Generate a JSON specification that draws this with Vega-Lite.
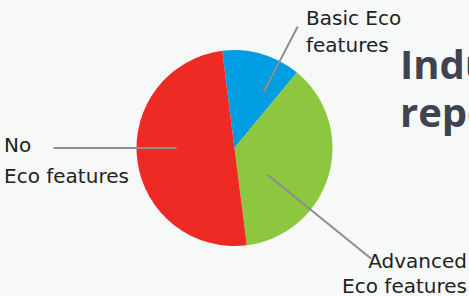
{
  "$schema": "https://vega.github.io/schema/vega-lite/v6.json",
  "width": 469,
  "height": 296,
  "autosize": "none",
  "padding": 0,
  "background": "#f7f9f9",
  "config": {"view": {"stroke": null}},
  "title": {
    "text": ["Industry", "report"],
    "anchor": "start",
    "frame": "group",
    "orient": "top",
    "dx": 400,
    "dy": 167,
    "offset": 0,
    "baseline": "alphabetic",
    "font": "Open Sans",
    "fontSize": 40,
    "fontWeight": "bold",
    "color": "#3d4350",
    "lineHeight": 48
  },
  "data": {
    "values": [
      {"category": "Basic Eco features", "label": "Basic Eco\nfeatures", "share": 13},
      {"category": "Advanced Eco features", "label": "Advanced\nEco features", "share": 37},
      {"category": "No Eco features", "label": "No\nEco features", "share": 50}
    ]
  },
  "transform": [
    {"stack": "share", "groupby": [], "sort": [{"field": "category", "order": "descending"}], "as": ["s0", "s1"]}
  ],
  "layer": [
    {
      "mark": {"type": "arc", "radius": 98},
      "encoding": {
        "theta": {"field": "s0", "type": "quantitative", "scale": {"domain": [0, 100], "range": [3.0159, 9.2991]}},
        "theta2": {"field": "s1"},
        "color": {
          "field": "category",
          "type": "nominal",
          "scale": {"domain": ["Basic Eco features", "Advanced Eco features", "No Eco features"], "range": ["#009ee0", "#8dc63f", "#ee2a24"]},
          "legend": null
        }
      }
    },
    {
      "transform": [{"filter": "datum.category === 'No Eco features'"}],
      "mark": {"type": "arc", "radius": 181, "radius2": 58, "fillOpacity": 0, "stroke": "#8b8e94", "strokeWidth": 2},
      "encoding": {"theta": {"datum": 27, "type": "quantitative"}, "theta2": {"datum": 27}}
    },
    {
      "transform": [{"filter": "datum.category === 'Basic Eco features'"}],
      "mark": {"type": "arc", "radius": 137, "radius2": 63, "fillOpacity": 0, "stroke": "#8b8e94", "strokeWidth": 2},
      "encoding": {"theta": {"datum": 59.64, "type": "quantitative"}, "theta2": {"datum": 59.64}}
    },
    {
      "transform": [{"filter": "datum.category === 'Advanced Eco features'"}],
      "mark": {"type": "arc", "radius": 176, "radius2": 42, "fillOpacity": 0, "stroke": "#8b8e94", "strokeWidth": 2},
      "encoding": {"theta": {"datum": 87.83, "type": "quantitative"}, "theta2": {"datum": 87.83}}
    },
    {
      "transform": [{"filter": "datum.category === 'No Eco features'"}],
      "mark": {"type": "text", "radius": 230.5, "align": "left", "baseline": "alphabetic", "lineBreak": "\n", "lineHeight": 31.7, "font": "DejaVu Sans", "fontSize": 20, "color": "#222222"},
      "encoding": {"theta": {"datum": 26.74, "type": "quantitative"}, "text": {"field": "label"}}
    },
    {
      "transform": [{"filter": "datum.category === 'Basic Eco features'"}],
      "mark": {"type": "text", "radius": 142.3, "align": "left", "baseline": "alphabetic", "lineBreak": "\n", "lineHeight": 26.7, "font": "DejaVu Sans", "fontSize": 20, "color": "#222222"},
      "encoding": {"theta": {"datum": 60.38, "type": "quantitative"}, "text": {"field": "label"}}
    },
    {
      "transform": [{"filter": "datum.category === 'Advanced Eco features'"}],
      "mark": {"type": "text", "radius": 261.5, "align": "right", "baseline": "alphabetic", "lineBreak": "\n", "lineHeight": 25.5, "font": "DejaVu Sans", "fontSize": 20, "color": "#222222"},
      "encoding": {"theta": {"datum": 84.57, "type": "quantitative"}, "text": {"field": "label"}}
    }
  ]
}
